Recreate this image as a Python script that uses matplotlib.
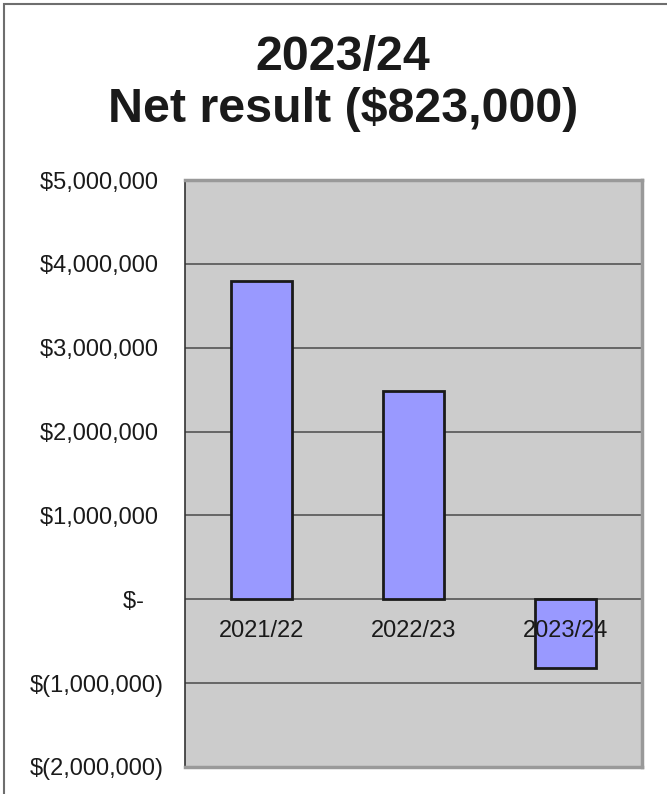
import matplotlib
matplotlib.use("Agg")
from matplotlib import pyplot as plt
from matplotlib.patches import Rectangle

plt.rcParams["font.family"] = ["Liberation Sans", "DejaVu Sans"]

# net result per year
years = ["2021/22", "2022/23", "2023/24"]
net_results = [3790000, 2480000, -823000]

y_ticks = [-2000000, -1000000, 0, 1000000, 2000000, 3000000, 4000000, 5000000]


def money_label(value):
    # accounting style: negatives in brackets, zero as a dash
    if value == 0:
        return "$-   "
    if value < 0:
        return "$({:,})".format(-value)
    return "${:,} ".format(value)


fig = plt.figure(figsize=(6.67, 7.94), dpi=100)

# outer frame around the chart object
fig.patches.append(Rectangle((4 / 667, -0.1), 1.2, 1.1 - 4 / 794,
                             transform=fig.transFigure, fill=False,
                             edgecolor="#6e6e6e", linewidth=1.5))

fig.text(343 / 667, 1 - 70 / 794, "2023/24", ha="center", va="baseline",
         fontsize=34.8, fontweight="bold", color="#1a1a1a")
fig.text(343 / 667, 1 - 122 / 794, "Net result ($823,000)", ha="center",
         va="baseline", fontsize=34.8, fontweight="bold", color="#1a1a1a")

ax = fig.add_axes([185 / 667, 27 / 794, 457 / 667, 587 / 794])
ax.set_facecolor("#cccccc")

x = range(len(years))
ax.bar(x, net_results, width=0.4, color="#9999ff", edgecolor="#1a1a1a",
       linewidth=2, zorder=3)

ax.set_xlim(-0.5, len(years) - 0.5)
ax.set_ylim(-2000000, 5000000)

ax.set_yticks(y_ticks)
ax.set_yticklabels([money_label(v) for v in y_ticks], fontsize=17,
                   color="#1a1a1a")
ax.tick_params(axis="y", length=0, pad=15)
ax.set_xticks([])

for v in y_ticks[1:-1]:
    ax.axhline(v, color="#555555", linewidth=1.2, zorder=1)

# category labels sit just under the zero line
for i, year in enumerate(years):
    ax.annotate(year, (i, 0), xytext=(0, -15), textcoords="offset points",
                ha="center", va="top", fontsize=17, color="#1a1a1a",
                zorder=4)

for side in ["top", "right", "bottom"]:
    ax.spines[side].set_color("#999999")
    ax.spines[side].set_linewidth(2.5)
ax.spines["left"].set_color("#333333")
ax.spines["left"].set_linewidth(1.2)

fig.savefig("out.png", dpi=100)
